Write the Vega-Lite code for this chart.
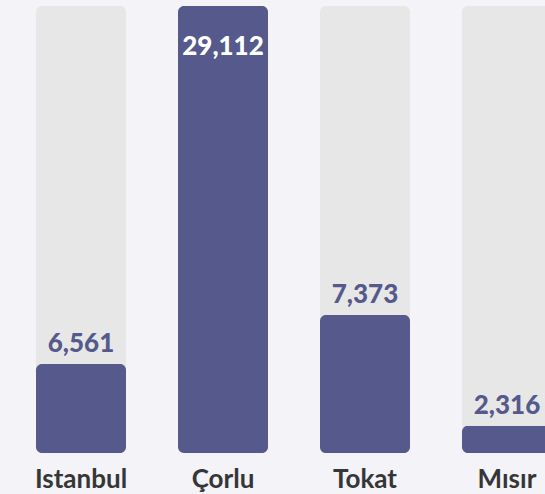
{
  "$schema": "https://vega.github.io/schema/vega-lite/v6.json",
  "width": 588,
  "height": 447,
  "padding": {"top": 6, "left": 0, "right": 0, "bottom": 41},
  "autosize": {"type": "none"},
  "background": "#f3f3f8",
  "config": {"view": {"stroke": null}},
  "data": {
    "values": [
      {"city": "Istanbul", "count": 6561, "bar": 19.9, "full": 100},
      {"city": "Çorlu", "count": 29112, "bar": 100, "full": 100},
      {"city": "Tokat", "count": 7373, "bar": 30.9, "full": 100},
      {"city": "Mısır", "count": 2316, "bar": 6.1, "full": 100}
    ]
  },
  "encoding": {
    "x": {
      "field": "city",
      "type": "nominal",
      "sort": null,
      "scale": {"paddingInner": 0.366, "paddingOuter": 0.2535},
      "axis": {
        "title": null,
        "domain": false,
        "ticks": false,
        "labelAngle": 0,
        "labelFont": "Lato",
        "labelFontWeight": "bold",
        "labelFontSize": 26,
        "labelColor": "#363636",
        "labelPadding": 13
      }
    }
  },
  "layer": [
    {
      "mark": {"type": "bar", "color": "#e7e7e7", "cornerRadius": 6},
      "encoding": {
        "y": {"field": "full", "type": "quantitative", "scale": {"domain": [0, 100]}, "axis": null}
      }
    },
    {
      "mark": {"type": "bar", "color": "#55598c", "cornerRadius": 6},
      "encoding": {
        "y": {"field": "bar", "type": "quantitative", "scale": {"domain": [0, 100]}, "axis": null}
      }
    },
    {
      "transform": [{"filter": "datum.bar < 100"}],
      "mark": {"type": "text", "font": "Lato", "fontWeight": 900, "fontSize": 26, "color": "#55598c", "baseline": "alphabetic", "dy": -12},
      "encoding": {
        "y": {"field": "bar", "type": "quantitative", "scale": {"domain": [0, 100]}, "axis": null},
        "text": {"field": "count", "type": "quantitative", "format": ","}
      }
    },
    {
      "transform": [{"filter": "datum.bar >= 100"}],
      "mark": {"type": "text", "font": "Lato", "fontWeight": 900, "fontSize": 26, "color": "#ffffff", "baseline": "alphabetic", "dy": 49},
      "encoding": {
        "y": {"field": "bar", "type": "quantitative", "scale": {"domain": [0, 100]}, "axis": null},
        "text": {"field": "count", "type": "quantitative", "format": ","}
      }
    }
  ]
}
